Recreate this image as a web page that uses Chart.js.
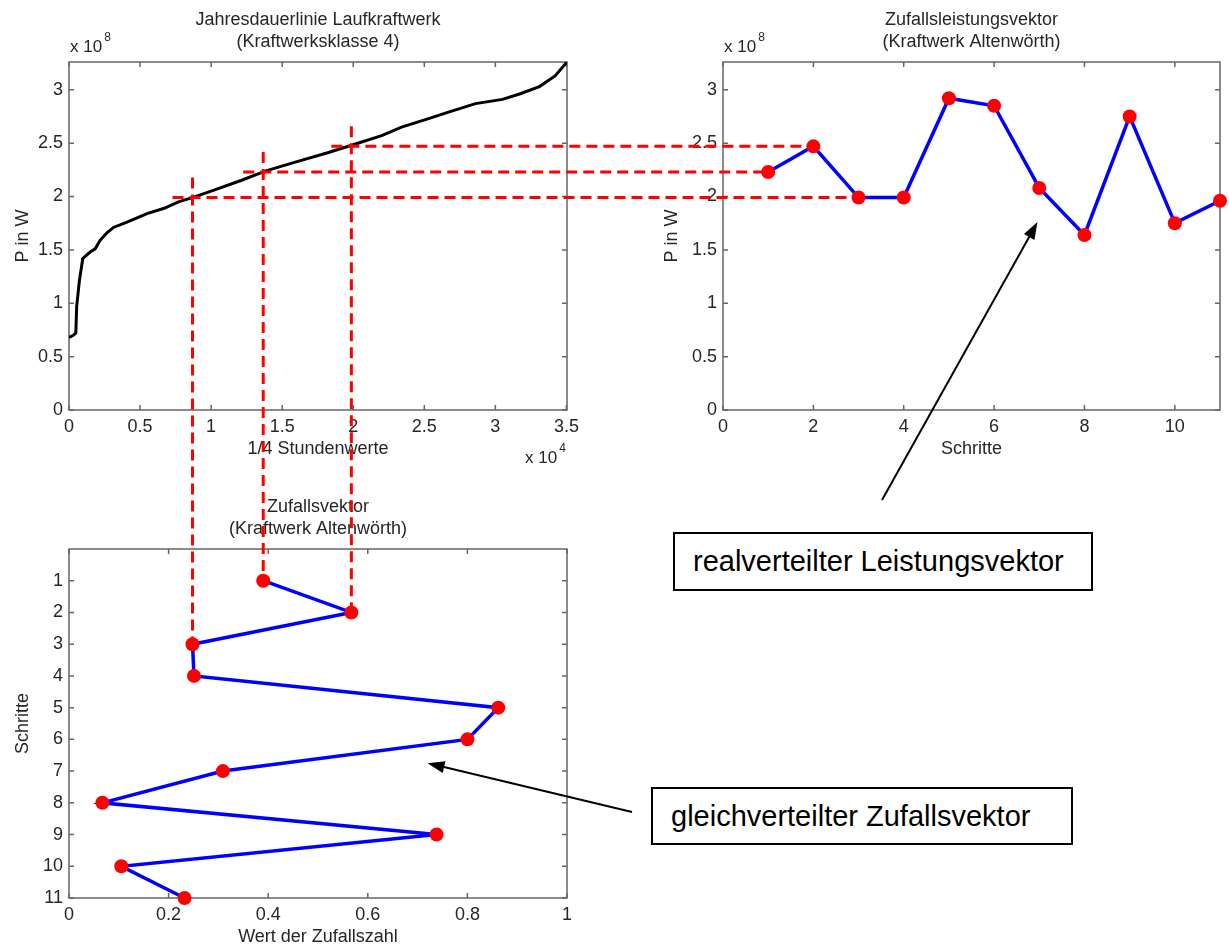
<!DOCTYPE html>
<html>
<head>
<meta charset="utf-8">
<script src="https://cdn.jsdelivr.net/npm/chart.js@4.4.1/dist/chart.umd.min.js"></script>
<style>
body { margin: 0; background: #fff; }
#seite { position: relative; width: 1229px; height: 945px; overflow: hidden; font-family: "Liberation Sans", Arial, sans-serif; }
canvas { position: absolute; }
.notiz { position: absolute; box-sizing: border-box; border: 2px solid #000; background: #fff; color: #000;
         font-size: 29px; padding-left: 18px; display: flex; align-items: center; white-space: nowrap; }
</style>
</head>
<body>
<div id="seite">
  <canvas id="dauer" width="614" height="470" style="left:0;top:0"></canvas>
  <canvas id="leistung" width="589" height="470" style="left:640px;top:0"></canvas>
  <canvas id="zufall" width="614" height="465" style="left:0;top:480px"></canvas>
  <div class="notiz" style="left:673px;top:532px;width:420px;height:59px">realverteilter Leistungsvektor</div>
  <div class="notiz" style="left:651px;top:787px;width:422px;height:58px">gleichverteilter Zufallsvektor</div>
  <canvas id="overlay" width="1229" height="945" style="left:0;top:0;pointer-events:none"></canvas>
</div>
<script>
// Jahresdauerlinie (1/4 Stundenwerte, sortiert)
var viertelstunden = 35040;
var dauerX = [0, 300, 480, 540, 730, 970, 1490, 1840, 2190, 2670, 3130, 4080, 5490, 6700, 7700, 8680,
              10200, 12100, 13860, 15860, 18200, 20100, 22000, 23400, 25300, 26700, 28600, 30500,
              31700, 33100, 34200, 35040];
var dauerP = [0.68e8, 0.70e8, 0.72e8, 0.97e8, 1.21e8, 1.42e8, 1.48e8, 1.51e8, 1.59e8, 1.66e8, 1.71e8,
              1.76e8, 1.84e8, 1.89e8, 1.95e8, 1.99e8, 2.06e8, 2.15e8, 2.24e8, 2.32e8, 2.41e8, 2.49e8,
              2.57e8, 2.65e8, 2.73e8, 2.79e8, 2.87e8, 2.91e8, 2.96e8, 3.03e8, 3.13e8, 3.26e8];

// Zufallsvektor und Leistungsvektor (Kraftwerk Altenwörth)
var schritte = [1, 2, 3, 4, 5, 6, 7, 8, 9, 10, 11];
var zufallszahl = [0.39, 0.567, 0.248, 0.251, 0.862, 0.80, 0.309, 0.067, 0.738, 0.105, 0.232];
var leistungP = [2.23e8, 2.47e8, 1.99e8, 1.99e8, 2.92e8, 2.85e8, 2.08e8, 1.64e8, 2.75e8, 1.75e8, 1.96e8];
var verknuepft = [1, 2, 3];

// Achsenbeschriftung
var pTicks = [0, 0.5e8, 1e8, 1.5e8, 2e8, 2.5e8, 3e8];
var pLabels = ['0', '0.5', '1', '1.5', '2', '2.5', '3'];
var stundenTicks = [0, 5000, 10000, 15000, 20000, 25000, 30000, 35000];
var stundenLabels = ['0', '0.5', '1', '1.5', '2', '2.5', '3', '3.5'];
var schrittTicksX = [0, 2, 4, 6, 8, 10];
var schrittLabelsX = ['0', '2', '4', '6', '8', '10'];
var schrittTicksY = [1, 2, 3, 4, 5, 6, 7, 8, 9, 10, 11];
var schrittLabelsY = ['1', '2', '3', '4', '5', '6', '7', '8', '9', '10', '11'];
var zufallTicks = [0, 0.2, 0.4, 0.6, 0.8, 1];
var zufallLabels = ['0', '0.2', '0.4', '0.6', '0.8', '1'];

var schrift = '"Liberation Sans", Arial, sans-serif';
var textFarbe = '#262626';

function achse(min, max, ticks, labels, extra) {
    return Object.assign({
        type: 'linear',
        min: min,
        max: max,
        grid: { display: false, drawTicks: false },
        border: { display: false },
        afterBuildTicks: function (s) { s.ticks = ticks.map(function (v) { return { value: v }; }); },
        ticks: {
            color: textFarbe,
            font: { family: schrift, size: 18 },
            padding: 6,
            autoSkip: false,
            maxRotation: 0,
            callback: function (v, i) { return labels[i]; }
        }
    }, extra);
}

function exponent(ctx, x, y, hoch) {
    ctx.textAlign = 'left';
    ctx.textBaseline = 'middle';
    ctx.font = '17px ' + schrift;
    ctx.fillText('x 10', x, y);
    var w = ctx.measureText('x 10').width;
    ctx.font = '12px ' + schrift;
    ctx.fillText(hoch, x + w + 2, y - 9);
}

// Rahmen mit Innen-Ticks wie in MATLAB, plus Titel und Achsentitel
var matlabRahmen = {
    id: 'matlabRahmen',
    beforeDatasetsDraw: function (chart) {
        var ctx = chart.ctx, a = chart.chartArea, sx = chart.scales.x, sy = chart.scales.y;
        ctx.save();
        ctx.strokeStyle = '#666';
        ctx.lineWidth = 1.5;
        ctx.strokeRect(a.left, a.top, a.right - a.left, a.bottom - a.top);
        ctx.beginPath();
        sx.ticks.forEach(function (t) {
            var x = sx.getPixelForValue(t.value);
            ctx.moveTo(x, a.bottom); ctx.lineTo(x, a.bottom - 5);
            ctx.moveTo(x, a.top); ctx.lineTo(x, a.top + 5);
        });
        sy.ticks.forEach(function (t) {
            var y = sy.getPixelForValue(t.value);
            ctx.moveTo(a.left, y); ctx.lineTo(a.left + 5, y);
            ctx.moveTo(a.right, y); ctx.lineTo(a.right - 5, y);
        });
        ctx.stroke();
        ctx.restore();
    },
    afterDraw: function (chart, args, o) {
        var ctx = chart.ctx, a = chart.chartArea;
        var mitte = (a.left + a.right) / 2;
        ctx.save();
        ctx.fillStyle = textFarbe;
        ctx.font = '18px ' + schrift;
        ctx.textAlign = 'center';
        ctx.textBaseline = 'middle';
        ctx.fillText(o.titel[0], mitte, a.top - 42);
        ctx.fillText(o.titel[1], mitte, a.top - 20);
        ctx.fillText(o.xTitel, mitte, a.bottom + 39);
        ctx.save();
        ctx.translate(a.left - o.yAbstand, (a.top + a.bottom) / 2);
        ctx.rotate(-Math.PI / 2);
        ctx.fillText(o.yTitel, 0, 0);
        ctx.restore();
        if (o.yExp) exponent(ctx, a.left + 1, a.top - 15, o.yExp);
        if (o.xExp) exponent(ctx, a.right - 42, a.bottom + 48, o.xExp);
        ctx.restore();
    }
};

function basis(padding, plugOpts, scales) {
    return {
        animation: false,
        responsive: false,
        events: [],
        layout: { padding: padding },
        plugins: { legend: { display: false }, tooltip: { enabled: false }, matlabRahmen: plugOpts },
        scales: scales
    };
}

var cvDauer = document.getElementById('dauer');
var cvLeistung = document.getElementById('leistung');
var cvZufall = document.getElementById('zufall');

var chartDauer = new Chart(cvDauer, {
    type: 'line',
    data: {
        datasets: [{
            data: dauerX.map(function (x, i) { return { x: x, y: dauerP[i] }; }),
            borderColor: '#000',
            borderWidth: 3,
            pointRadius: 0,
            tension: 0
        }]
    },
    options: basis({ top: 62, right: 47, left: 0, bottom: 0 }, {
        titel: ['Jahresdauerlinie Laufkraftwerk', '(Kraftwerksklasse 4)'],
        xTitel: '1/4 Stundenwerte', yTitel: 'P in W', yAbstand: 46, yExp: '8', xExp: '4'
    }, {
        x: achse(0, viertelstunden, stundenTicks, stundenLabels, { afterFit: function (s) { s.height = 60; } }),
        y: achse(0, 3.26e8, pTicks, pLabels, { afterFit: function (s) { s.width = 69; } })
    }),
    plugins: [matlabRahmen]
});

var chartLeistung = new Chart(cvLeistung, {
    type: 'line',
    data: {
        datasets: [{
            data: schritte.map(function (s, i) { return { x: s, y: leistungP[i] }; }),
            borderColor: '#0000ff',
            borderWidth: 3.5,
            pointRadius: 7,
            pointBackgroundColor: '#ff0000',
            pointBorderColor: '#ff0000',
            pointBorderWidth: 0,
            tension: 0,
            clip: false
        }]
    },
    options: basis({ top: 62, right: 9, left: 0, bottom: 0 }, {
        titel: ['Zufallsleistungsvektor', '(Kraftwerk Altenwörth)'],
        xTitel: 'Schritte', yTitel: 'P in W', yAbstand: 51, yExp: '8'
    }, {
        x: achse(0, 11, schrittTicksX, schrittLabelsX, { afterFit: function (s) { s.height = 60; } }),
        y: achse(0, 3.26e8, pTicks, pLabels, { afterFit: function (s) { s.width = 83; } })
    }),
    plugins: [matlabRahmen]
});

var chartZufall = new Chart(cvZufall, {
    type: 'line',
    data: {
        datasets: [{
            data: zufallszahl.map(function (u, i) { return { x: u, y: schritte[i] }; }),
            borderColor: '#0000ff',
            borderWidth: 3.5,
            pointRadius: 7,
            pointBackgroundColor: '#ff0000',
            pointBorderColor: '#ff0000',
            pointBorderWidth: 0,
            tension: 0,
            clip: false
        }]
    },
    options: basis({ top: 69, right: 47, left: 0, bottom: 0 }, {
        titel: ['Zufallsvektor', '(Kraftwerk Altenwörth)'],
        xTitel: 'Wert der Zufallszahl', yTitel: 'Schritte', yAbstand: 46
    }, {
        x: achse(0, 1, zufallTicks, zufallLabels, { afterFit: function (s) { s.height = 47; } }),
        y: achse(0, 11, schrittTicksY, schrittLabelsY, { reverse: true, afterFit: function (s) { s.width = 69; } })
    }),
    plugins: [matlabRahmen]
});

// Verbindungslinien und Pfeile über alle Diagramme
function seitenPunkt(chart, cv, xv, yv) {
    return {
        x: cv.offsetLeft + chart.scales.x.getPixelForValue(xv),
        y: cv.offsetTop + chart.scales.y.getPixelForValue(yv)
    };
}

var ov = document.getElementById('overlay').getContext('2d');
ov.strokeStyle = '#ff0000';
ov.lineWidth = 3;
ov.setLineDash([11, 6]);
verknuepft.forEach(function (k) {
    var u = zufallszahl[k - 1], p = leistungP[k - 1];
    var unten = seitenPunkt(chartZufall, cvZufall, u, k);
    var kreuz = seitenPunkt(chartDauer, cvDauer, u * viertelstunden, p);
    var ziel = seitenPunkt(chartLeistung, cvLeistung, k, p);
    ov.beginPath();
    ov.moveTo(kreuz.x, kreuz.y - 20);
    ov.lineTo(kreuz.x, unten.y);
    ov.stroke();
    ov.beginPath();
    ov.moveTo(kreuz.x - 20, kreuz.y);
    ov.lineTo(ziel.x, ziel.y);
    ov.stroke();
});

function pfeil(x1, y1, x2, y2) {
    var w = Math.atan2(y2 - y1, x2 - x1), len = 17, br = 6;
    ov.setLineDash([]);
    ov.strokeStyle = '#000';
    ov.fillStyle = '#000';
    ov.lineWidth = 2;
    ov.beginPath();
    ov.moveTo(x1, y1);
    ov.lineTo(x2 - Math.cos(w) * len * 0.8, y2 - Math.sin(w) * len * 0.8);
    ov.stroke();
    ov.beginPath();
    ov.moveTo(x2, y2);
    ov.lineTo(x2 - Math.cos(w) * len - Math.sin(w) * br, y2 - Math.sin(w) * len + Math.cos(w) * br);
    ov.lineTo(x2 - Math.cos(w) * len + Math.sin(w) * br, y2 - Math.sin(w) * len - Math.cos(w) * br);
    ov.closePath();
    ov.fill();
}

var spitze1 = seitenPunkt(chartLeistung, cvLeistung, 6.96, 1.76e8);
pfeil(882, 500, spitze1.x, spitze1.y);
var spitze2 = seitenPunkt(chartZufall, cvZufall, 0.72, 6.75);
pfeil(632, 812, spitze2.x, spitze2.y);
</script>
</body>
</html>
